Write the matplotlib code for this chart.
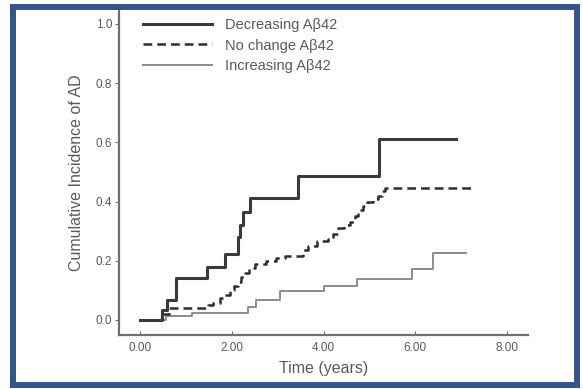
import matplotlib.pyplot as plt
from matplotlib.patches import Rectangle

# Kaplan-Meier style cumulative incidence
dec_t = [0, 0.48, 0.58, 0.77, 1.46, 1.85, 2.13, 2.18, 2.25, 2.40, 3.44, 5.21, 6.88]
dec_v = [0, 0.034, 0.068, 0.14, 0.178, 0.224, 0.28, 0.32, 0.365, 0.413, 0.485, 0.61, 0.61]

noc_t = [0, 0.46, 0.62, 1.47, 1.58, 1.73, 1.85, 1.95, 2.05, 2.12, 2.20, 2.28, 2.38,
         2.50, 2.75, 2.95, 3.15, 3.55, 3.66, 3.85, 4.10, 4.20, 4.31, 4.45, 4.57,
         4.68, 4.76, 4.85, 4.95, 5.08, 5.18, 5.27, 5.33, 7.30]
noc_v = [0, 0.02, 0.04, 0.05, 0.057, 0.073, 0.085, 0.10, 0.115, 0.128, 0.145, 0.16, 0.175,
         0.188, 0.198, 0.208, 0.216, 0.235, 0.25, 0.265, 0.273, 0.29, 0.31, 0.32, 0.33,
         0.35, 0.37, 0.385, 0.40, 0.41, 0.42, 0.435, 0.445, 0.445]

inc_t = [0, 0.55, 1.12, 2.35, 2.53, 3.04, 4.00, 4.73, 5.93, 6.39, 7.10]
inc_v = [0, 0.012, 0.024, 0.045, 0.066, 0.098, 0.115, 0.137, 0.173, 0.225, 0.225]

labels = ['Decreasing A\u03b242', 'No change A\u03b242', 'Increasing A\u03b242']
x_ticks = [0, 2, 4, 6, 8]
y_ticks = [0.0, 0.2, 0.4, 0.6, 0.8, 1.0]

plt.rcParams['font.family'] = ['Liberation Sans', 'DejaVu Sans']
txt = '#5a5a5a'

fig = plt.figure(figsize=(5.83, 3.89), dpi=100)
ax = fig.add_axes([119 / 583, 1 - 335 / 389, 409 / 583, 325 / 389])

ax.step(inc_t, inc_v, where='post', color='#8c8c8c', lw=1.4, label=labels[2])
ax.step(noc_t, noc_v, where='post', color='#2e2e2e', lw=1.8, ls=(0, (3.5, 2)), label=labels[1])
ax.step(dec_t, dec_v, where='post', color='#3a3a3a', lw=2.2, label=labels[0])

ax.set_xlim(-0.467, 8.46)
ax.set_ylim(-0.051, 1.047)
ax.set_xticks(x_ticks)
ax.set_xticklabels(['%.2f' % v for v in x_ticks])
ax.set_yticks(y_ticks)
ax.set_yticklabels(['%.1f' % v for v in y_ticks])

for s in ['top', 'right']:
    ax.spines[s].set_visible(False)
for s in ['left', 'bottom']:
    ax.spines[s].set_color('#6e6e6e')
    ax.spines[s].set_linewidth(1.6)

ax.tick_params(axis='y', direction='out', length=3, color='#6e6e6e', labelsize=8.5, labelcolor=txt, pad=2)
ax.tick_params(axis='x', direction='in', length=3, color='#6e6e6e', labelsize=8.5, labelcolor=txt, pad=5)

ax.set_xlabel('Time (years)', fontsize=11.5, color=txt, labelpad=5)
ax.set_ylabel('Cumulative Incidence of AD', fontsize=11.5, color=txt, labelpad=8)

handles, labs = ax.get_legend_handles_labels()
leg = ax.legend(handles[::-1], labs[::-1], loc='upper left', frameon=False,
                bbox_to_anchor=(143 / 583, 1 - 18 / 389), bbox_transform=fig.transFigure,
                borderpad=0, borderaxespad=0, handlelength=4.7, handletextpad=0.9,
                labelspacing=0.45, fontsize=10.5)
for t in leg.get_texts():
    t.set_color(txt)

# blue frame around the picture
fig.patches.append(Rectangle((12.5 / 583, 1 - 384.5 / 389), 564 / 583, 378 / 389,
                             transform=fig.transFigure, fill=False,
                             edgecolor='#34558b', lw=4.3))

plt.savefig('out.png', dpi=100)
